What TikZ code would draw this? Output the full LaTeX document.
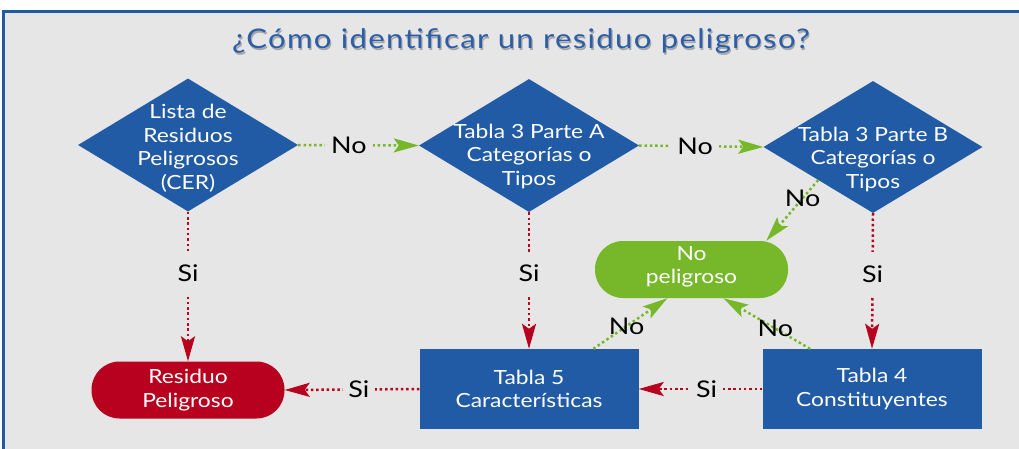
\documentclass[tikz,border=0pt]{standalone}
\usepackage{fontspec}
\setmainfont{Lato}[FakeStretch=1.17]
\newfontfamily\titlefont{Lato}[FakeStretch=1.15,LetterSpace=5]
\usetikzlibrary{shapes.geometric,arrows.meta,calc}
\definecolor{bg}{HTML}{E6E6E6}
\definecolor{cblue}{HTML}{215BA6}
\definecolor{cred}{HTML}{B8001F}
\definecolor{cgreen}{HTML}{76B82A}
\definecolor{ctitle}{HTML}{2C5EA8}
\begin{document}
\begin{tikzpicture}[x=1pt,y=-1pt,
  dia/.style={diamond, fill=cblue, inner sep=0pt, minimum width=220pt, minimum height=133pt},
  wtext/.style={text=white, align=center, inner sep=0pt, font=\fontsize{19.5}{23.5}\selectfont},
  boxnode/.style={rectangle, fill=cblue, inner sep=0pt, minimum width=219pt, minimum height=80pt},
  pill/.style={rectangle, rounded corners=28pt, inner sep=0pt, minimum width=193pt, minimum height=57pt},
  lab/.style={text=black, font=\fontsize{23}{23}\selectfont},
  gapS/.style={lab, fill=bg, inner sep=0pt, minimum width=32pt, minimum height=44pt},
  gapN/.style={lab, fill=bg, inner sep=0pt, minimum width=48pt, minimum height=10pt},
  onl/.style={lab, inner sep=0pt},
  dots/.style={line width=2.5pt, dash pattern=on 2.5pt off 2.8pt},
  rarr/.style={dots, draw=cred, -{Stealth[length=25pt,width=14pt,inset=5pt]}},
  garr/.style={dots, draw=cgreen, -{Stealth[length=25pt,width=14pt,inset=5pt]}},
  ttl/.style={anchor=base, font=\titlefont\fontsize{27}{27}\selectfont}
]
\useasboundingbox (0,0) rectangle (1019,449);
\begin{scope}
\clip (0,0) rectangle (1019,449);
\fill[white] (0,0) rectangle (1019,449);
\draw[cblue, line width=3pt, fill=bg] (3.2,11.5) rectangle (1040,470);
\end{scope}

% title
\node[ttl, text=gray!70] at (522.2,50.3) {¿Cómo identificar un residuo peligroso?};
\node[ttl, text=ctitle] (title) at (521,49) {¿Cómo identificar un residuo peligroso?};

% diamonds
\node[dia] (d1) at (188,145) {};
\node[dia] (d2) at (529,145.5) {};
\node[dia, minimum width=219pt, minimum height=132pt] (d3) at (873,147) {};
\node[wtext] (t1) at (188,148) {Lista de\\Residuos\\Peligrosos\\(CER)};
\node[wtext] (t2) at (529,156) {Tabla 3 Parte A\\Categorías o\\Tipos};
\node[wtext] (t3) at (873,159) {Tabla 3 Parte B\\Categorías o\\Tipos};

% boxes
\node[boxnode] (b5) at (529,389) {};
\node[wtext] at (b5) {Tabla 5\\Características};
\node[boxnode] (b4) at (872,389) {};
\node[wtext] at (b4) {Tabla 4\\Constituyentes};
\node[pill, fill=cred] (rp) at (188,390) {};
\node[wtext] at (rp) {Residuo\\Peligroso};
\node[pill, fill=cgreen] (np) at (691.5,269.5) {};
\node[wtext] at (691.5,267) {No\\peligroso};

% connectors
\draw[garr] (d1.east) -- node[gapN, pos=0.42] {No} (d2.west);
\draw[garr] (d2.east) -- node[gapN, pos=0.45] {No} (d3.west);
\draw[rarr] (d1.south) -- node[gapS, pos=0.41] {Si} (rp.north);
\draw[rarr] (d2.south) -- node[gapS, pos=0.45] {Si} (b5.north);
\draw[rarr] (d3.south) -- node[gapS, pos=0.45] {Si} (b4.north);
\draw[rarr] (b5.west) -- node[gapS, pos=0.45] {Si} (rp.east);
\draw[rarr] (b4.west) -- node[gapS, pos=0.45] {Si} (b5.east);
\draw[garr] ($(d3.west)!0.5!(d3.south)$) -- node[onl, pos=0.3] {No} (np.21);
\draw[garr] (b5.32) -- node[onl, pos=0.45] {No} (np.230.5);
\draw[garr] (b4.147) -- node[onl, pos=0.4] {No} (np.318);
\end{tikzpicture}
\end{document}
